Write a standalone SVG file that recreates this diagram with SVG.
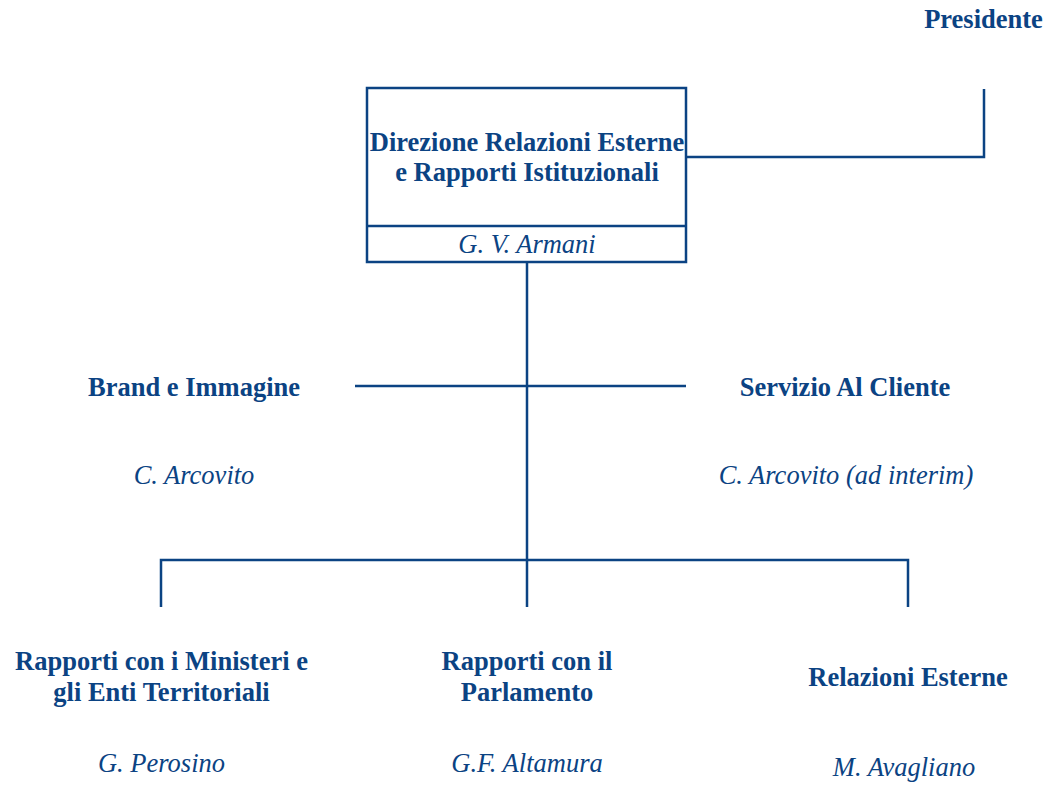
<svg xmlns="http://www.w3.org/2000/svg" width="1051" height="786" viewBox="0 0 1051 786">
<style>
.t{font-family:"Liberation Serif","Times New Roman",serif;font-size:26.5px;fill:#0b4383;text-anchor:middle}
.b{font-weight:bold}
.i{font-style:italic}
.ln{stroke:#0b4383;stroke-width:2.5;fill:none}
</style>
<rect width="1051" height="786" fill="#ffffff"/>
<g id="connectors">
<path class="ln" d="M686 157 H984 V89"/>
<path class="ln" d="M527 262 V607"/>
<path class="ln" d="M355 386 H686"/>
<path class="ln" d="M161 607 V560 H908 V607"/>
</g>
<g id="presidente">
<text class="t b" x="983.5" y="28">Presidente</text>
</g>
<g id="direzione">
<rect class="ln" x="367" y="88" width="319" height="174"/>
<line class="ln" x1="367" y1="226" x2="686" y2="226"/>
<text class="t b" x="527" y="151">Direzione Relazioni Esterne</text>
<text class="t b" x="527" y="181">e Rapporti Istituzionali</text>
<text class="t i" x="527" y="253">G. V. Armani</text>
</g>
<g id="brand">
<text class="t b" x="194" y="396">Brand e Immagine</text>
<text class="t i" x="194" y="484">C. Arcovito</text>
</g>
<g id="servizio">
<text class="t b" x="845" y="396">Servizio Al Cliente</text>
<text class="t i" x="846" y="484">C. Arcovito (ad interim)</text>
</g>
<g id="ministeri">
<text class="t b" x="161.5" y="670">Rapporti con i Ministeri e</text>
<text class="t b" x="161.5" y="701">gli Enti Territoriali</text>
<text class="t i" x="161.5" y="772">G. Perosino</text>
</g>
<g id="parlamento">
<text class="t b" x="527" y="670">Rapporti con il</text>
<text class="t b" x="527" y="701">Parlamento</text>
<text class="t i" x="527" y="772">G.F. Altamura</text>
</g>
<g id="relazioni">
<text class="t b" x="908" y="686">Relazioni Esterne</text>
<text class="t i" x="904" y="776">M. Avagliano</text>
</g>
</svg>
